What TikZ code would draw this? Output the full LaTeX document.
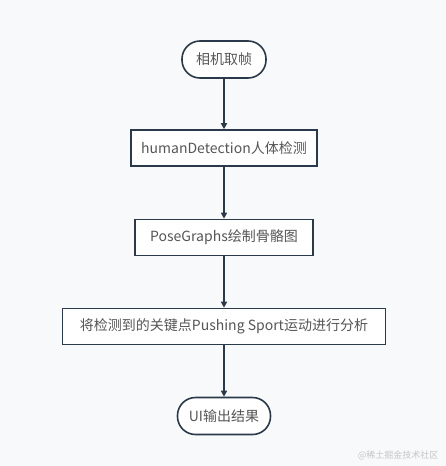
\documentclass[tikz,border=0pt]{standalone}
\usepackage{fontspec}
\setmainfont{Noto Sans CJK SC}
\usetikzlibrary{arrows.meta}

\definecolor{edgecol}{HTML}{2B3A4A}
\definecolor{textcol}{HTML}{555555}
\definecolor{bgcol}{HTML}{F8F9FB}

\tikzset{
  term/.style={draw=edgecol, line width=1.6pt, fill=white, rounded corners=18pt,
    minimum height=37pt, inner sep=0pt, text=textcol, font=\fontsize{14}{16}\selectfont},
  stepbox/.style={draw=edgecol, line width=1.6pt, fill=white,
    minimum height=36pt, inner sep=0pt, text=textcol, font=\fontsize{14}{16}\selectfont},
  flow/.style={edgecol, line width=1.6pt, -{Triangle[length=6pt,width=6pt]}}
}

\begin{document}
\begin{tikzpicture}[x=1pt,y=-1pt]
% Background
\fill[bgcol] (0,0) rectangle (446,466);
\useasboundingbox (0,0) rectangle (446,466);

% Start
\node[term, minimum width=84pt] (grab) at (224,59.5) {相机取帧};

% Steps
\node[stepbox, minimum width=186pt] (detect) at (224,148) {humanDetection人体检测};
\node[stepbox, minimum width=178pt] (pose) at (224,237.5) {PoseGraphs绘制骨骼图};
\node[stepbox, minimum width=323pt] (analyse) at (224,326.5) {将检测到的关键点Pushing Sport运动进行分析};

% End
\node[term, minimum width=93pt] (show) at (224,416) {UI输出结果};

% Arrows
\draw[flow] (grab) -- (detect);
\draw[flow] (detect) -- (pose);
\draw[flow] (pose) -- (analyse);
\draw[flow] (analyse) -- (show);

% Watermark
\node[text=gray!45, font=\fontsize{9}{10}\selectfont, anchor=east] (mark) at (442,455) {@稀土掘金技术社区};
\end{tikzpicture}
\end{document}
